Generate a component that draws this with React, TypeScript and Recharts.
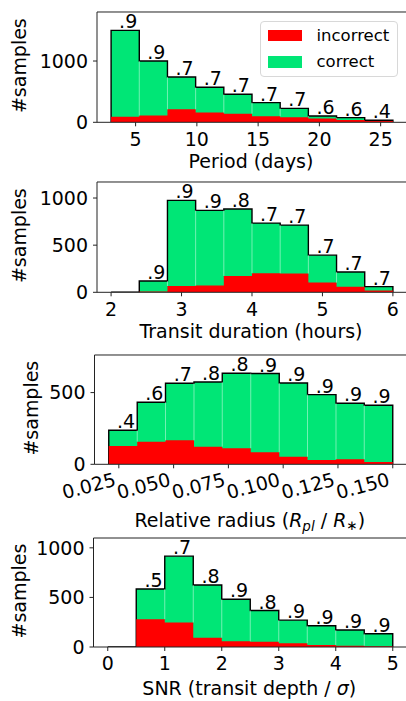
import React from 'react';
import {
  ComposedChart,
  Area,
  Line,
  XAxis,
  YAxis,
  ReferenceLine,
  LabelList,
  Legend,
} from 'recharts';

// ---------- data ----------
const periodEdges = [3, 5.3, 7.6, 9.9, 12.2, 14.5, 16.8, 19.1, 21.4, 23.7, 26];
const periodTotals = [1500, 1000, 739, 571, 457, 321, 228, 103, 76, 33];
const periodIncorrect = [92, 110, 212, 158, 141, 98, 82, 60, 38, 20];
const periodAcc = ['.9', '.9', '.7', '.7', '.7', '.7', '.7', '.6', '.6', '.4'];
const periodTicks = [5, 10, 15, 20, 25];

const durationEdges = [2, 2.4, 2.8, 3.2, 3.6, 4, 4.4, 4.8, 5.2, 5.6, 6];
const durationTotals = [0, 120, 975, 869, 883, 734, 713, 394, 216, 60];
const durationIncorrect = [0, 8, 67, 71, 174, 202, 199, 103, 60, 18];
const durationAcc = ['', '.9', '.9', '.9', '.8', '.7', '.7', '.7', '.7', '.7'];
const durationTicks = [2, 3, 4, 5, 6];

const radiusEdges = [0.0204, 0.0334, 0.0463, 0.0593, 0.0722, 0.0852, 0.0982, 0.1111, 0.1241, 0.137, 0.15];
const radiusTotals = [237, 433, 565, 574, 635, 633, 567, 486, 426, 412];
const radiusIncorrect = [128, 158, 167, 123, 112, 84, 53, 30, 35, 16];
const radiusAcc = ['.4', '.6', '.7', '.8', '.8', '.9', '.9', '.9', '.9', '.9'];
const radiusTicks = [0.025, 0.05, 0.075, 0.1, 0.125, 0.15];

const snrEdges = [0, 0.5, 1, 1.5, 2, 2.5, 3, 3.5, 4, 4.5, 5];
const snrTotals = [0, 585, 916, 625, 482, 368, 271, 214, 171, 134];
const snrIncorrect = [0, 281, 247, 94, 57, 54, 37, 20, 13, 7];
const snrAcc = ['', '.5', '.7', '.8', '.9', '.8', '.9', '.9', '.9', '.9'];
const snrTicks = [0, 1, 2, 3, 4, 5];

const legendItems = [
  { name: 'incorrect', color: '#ff0000' },
  { name: 'correct', color: '#00e676' },
];

// ---------- style ----------
const FONT = '"DejaVu Sans", "Liberation Sans", sans-serif';
const GREEN = '#00e676';
const RED = '#ff0000';
const FS = 19;

function buildSteps(edges: number[], totals: number[], wrong: number[]) {
  const n = totals.length;
  const rows: { x: number; total: number; wrong: number }[] = [];
  rows.push({ x: edges[0], total: 0, wrong: 0 });
  for (let i = 0; i < n; i++) rows.push({ x: edges[i], total: totals[i], wrong: wrong[i] });
  rows.push({ x: edges[n], total: totals[n - 1], wrong: wrong[n - 1] });
  rows.push({ x: edges[n], total: 0, wrong: 0 });
  return rows;
}

function buildLabels(edges: number[], totals: number[], labels: string[]) {
  const out: { x: number; y: number; label: string }[] = [];
  for (let i = 0; i < totals.length; i++) {
    if (!labels[i]) continue;
    out.push({ x: (edges[i] + edges[i + 1]) / 2, y: totals[i], label: labels[i] });
  }
  return out;
}

const renderLegend = () => (
  <div
    style={{
      position: 'absolute',
      left: 0,
      top: 0,
      width: 138,
      height: 56,
      boxSizing: 'border-box',
      border: '1px solid #d8d8d8',
      borderRadius: 4,
      background: 'rgba(255,255,255,0.85)',
      fontFamily: FONT,
      fontSize: 16.5,
      color: '#000',
    }}
  >
    {legendItems.map((it, i) => (
      <div
        key={it.name}
        style={{
          position: 'absolute',
          left: 6.5,
          top: 8 + i * 26.5,
          height: 11.5,
          display: 'flex',
          alignItems: 'center',
        }}
      >
        <span style={{ display: 'inline-block', width: 34.5, height: 11.5, background: it.color }} />
        <span style={{ marginLeft: 14.5, whiteSpace: 'nowrap', lineHeight: '11.5px' }}>{it.name}</span>
      </div>
    ))}
  </div>
);

const RotTick = (props: any) => {
  const { x, y, payload } = props;
  return (
    <g transform={`translate(${x},${y})`}>
      <text
        x={-2}
        y={11}
        textAnchor="end"
        fontSize={FS}
        fontFamily={FONT}
        fill="#000"
        transform="rotate(-15,-2,11)"
      >
        {Number(payload.value).toFixed(3)}
      </text>
    </g>
  );
};

type PanelCfg = {
  key: string;
  edges: number[];
  totals: number[];
  wrong: number[];
  labels: string[];
  xTicks: number[];
  yTicks: number[];
  xDomain: [number, number];
  plotLeft: number;
  plotTop: number;
  plotBottom: number;
  axisH: number;
  xLabelBase: number;
  yLabelX: number;
  xLabel: React.ReactNode;
  rotated?: boolean;
  legend?: boolean;
};

const panels: PanelCfg[] = [
  {
    key: 'period',
    edges: periodEdges,
    totals: periodTotals,
    wrong: periodIncorrect,
    labels: periodAcc,
    xTicks: periodTicks,
    yTicks: [0, 1000],
    xDomain: [1.85, 27.15],
    plotLeft: 97,
    plotTop: 12,
    plotBottom: 122.3,
    axisH: 56,
    xLabelBase: 46,
    yLabelX: 26,
    xLabel: <tspan>Period (days)</tspan>,
    legend: true,
  },
  {
    key: 'duration',
    edges: durationEdges,
    totals: durationTotals,
    wrong: durationIncorrect,
    labels: durationAcc,
    xTicks: durationTicks,
    yTicks: [0, 500, 1000],
    xDomain: [1.8, 6.2],
    plotLeft: 97,
    plotTop: 182,
    plotBottom: 292.3,
    axisH: 56,
    xLabelBase: 46,
    yLabelX: 26,
    xLabel: <tspan>Transit duration (hours)</tspan>,
  },
  {
    key: 'radius',
    edges: radiusEdges,
    totals: radiusTotals,
    wrong: radiusIncorrect,
    labels: radiusAcc,
    xTicks: radiusTicks,
    yTicks: [0, 500],
    xDomain: [0.0139, 0.1565],
    plotLeft: 94.5,
    plotTop: 355,
    plotBottom: 464.3,
    axisH: 72,
    xLabelBase: 63,
    yLabelX: 38,
    rotated: true,
    xLabel: (
      <>
        <tspan>Relative radius (</tspan>
        <tspan fontStyle="italic">R</tspan>
        <tspan fontStyle="italic" fontSize={13.5} dy={4}>pl</tspan>
        <tspan dy={-4}> / </tspan>
        <tspan fontStyle="italic">R</tspan>
        <tspan fontSize={13.5} dy={3}>∗</tspan>
        <tspan dy={-3}>)</tspan>
      </>
    ),
  },
  {
    key: 'snr',
    edges: snrEdges,
    totals: snrTotals,
    wrong: snrIncorrect,
    labels: snrAcc,
    xTicks: snrTicks,
    yTicks: [0, 500, 1000],
    xDomain: [-0.25, 5.25],
    plotLeft: 93.5,
    plotTop: 538.3,
    plotBottom: 647.3,
    axisH: 54,
    xLabelBase: 48,
    yLabelX: 26,
    xLabel: (
      <>
        <tspan>SNR (transit depth / </tspan>
        <tspan fontStyle="italic">σ</tspan>
        <tspan>)</tspan>
      </>
    ),
  },
];

function Panel({ cfg }: { cfg: PanelCfg }) {
  const chartTop = cfg.plotTop - 12;
  const height = cfg.plotBottom - chartTop + cfg.axisH;
  const yMax = Math.max(...cfg.totals) * 1.2;
  const steps = buildSteps(cfg.edges, cfg.totals, cfg.wrong);
  const labelData = buildLabels(cfg.edges, cfg.totals, cfg.labels);
  const seps: { x: number; lo: number; hi: number }[] = [];
  for (let i = 1; i < cfg.totals.length; i++) {
    const lo = Math.max(cfg.wrong[i - 1], cfg.wrong[i]);
    const hi = Math.min(cfg.totals[i - 1], cfg.totals[i]);
    if (hi > lo) seps.push({ x: cfg.edges[i], lo, hi });
  }

  const xLabelContent = (props: any) => {
    const vb = props.viewBox || {};
    return (
      <text
        x={cfg.plotLeft + (407 - cfg.plotLeft) / 2 - 1}
        y={vb.y + cfg.xLabelBase}
        textAnchor="middle"
        fontSize={FS}
        fontFamily={FONT}
        fill="#000"
      >
        {cfg.xLabel}
      </text>
    );
  };

  const yLabelContent = (props: any) => {
    const vb = props.viewBox || {};
    const cx = vb.x + cfg.yLabelX;
    const cy = vb.y + vb.height / 2 - 1.5;
    return (
      <text
        x={cx}
        y={cy}
        textAnchor="middle"
        fontSize={FS}
        fontFamily={FONT}
        fill="#000"
        transform={`rotate(-90,${cx},${cy})`}
      >
        #samples
      </text>
    );
  };

  return (
    <div style={{ position: 'absolute', left: 0, top: chartTop }}>
      <ComposedChart width={440} height={height} margin={{ top: 12, right: 33, left: 0, bottom: 0 }}>
        <Area
          data={steps}
          dataKey="total"
          name="correct"
          type="stepAfter"
          fill={GREEN}
          fillOpacity={1}
          stroke="#000"
          strokeWidth={1.4}
          dot={false}
          activeDot={false}
          isAnimationActive={false}
        />
        <Area
          data={steps}
          dataKey="wrong"
          name="incorrect"
          type="stepAfter"
          fill={RED}
          fillOpacity={1}
          stroke="none"
          dot={false}
          activeDot={false}
          isAnimationActive={false}
        />
        {seps.map((s) => (
          <ReferenceLine
            key={`sep-${s.x}`}
            segment={[
              { x: s.x, y: s.lo },
              { x: s.x, y: s.hi },
            ]}
            stroke="rgba(255,255,255,0.45)"
            strokeWidth={1}
            ifOverflow="visible"
          />
        ))}
        <Line
          data={labelData}
          dataKey="y"
          stroke="none"
          dot={false}
          activeDot={false}
          legendType="none"
          isAnimationActive={false}
        >
          <LabelList
            dataKey="label"
            position="top"
            offset={2}
            dx={3}
            fill="#000"
            fontSize={FS}
            fontFamily={FONT}
          />
        </Line>
        <ReferenceLine y={yMax} stroke="#222" strokeWidth={1} ifOverflow="visible" />
        <XAxis
          type="number"
          dataKey="x"
          domain={cfg.xDomain}
          allowDataOverflow
          ticks={cfg.xTicks}
          interval={0}
          height={cfg.axisH}
          tickSize={4}
          tickMargin={6}
          axisLine={{ stroke: '#222' }}
          tickLine={{ stroke: '#222' }}
          tick={cfg.rotated ? <RotTick /> : { fill: '#000', fontSize: FS, fontFamily: FONT }}
          label={xLabelContent}
        />
        <YAxis
          type="number"
          domain={[0, yMax]}
          allowDataOverflow
          ticks={cfg.yTicks}
          interval={0}
          width={cfg.plotLeft}
          tickSize={4}
          tickMargin={5}
          axisLine={{ stroke: '#222' }}
          tickLine={{ stroke: '#222' }}
          tick={{ fill: '#000', fontSize: FS, fontFamily: FONT }}
          label={yLabelContent}
        />
        {cfg.legend ? (
          <Legend
            content={renderLegend}
            wrapperStyle={{ position: 'absolute', left: 260, top: 20.7, width: 0, height: 0, overflow: 'visible' }}
          />
        ) : null}
      </ComposedChart>
    </div>
  );
}

export default function App() {
  return (
    <div
      style={{
        position: 'absolute',
        left: 0,
        top: 0,
        width: 406,
        height: 701,
        overflow: 'hidden',
        background: '#fff',
        fontFamily: FONT,
      }}
    >
      {panels.map((p) => (
        <Panel key={p.key} cfg={p} />
      ))}
    </div>
  );
}
